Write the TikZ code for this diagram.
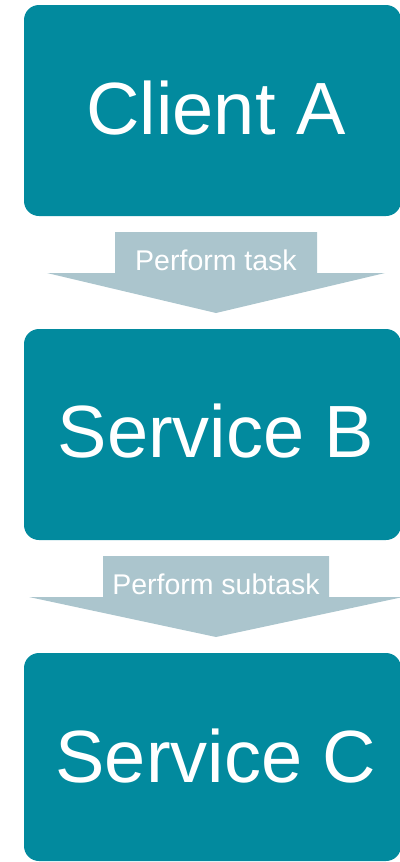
\documentclass[tikz,border=0pt]{standalone}
\usepackage{fontspec}
\setmainfont{Liberation Sans}
\definecolor{teal1}{HTML}{028A9E}
\definecolor{arrowgray}{HTML}{ABC5CD}
\begin{document}
\begin{tikzpicture}[x=1pt,y=-1pt,
  box/.style={fill=teal1, draw=none, rounded corners=15pt},
  bigtext/.style={text=white, font=\fontsize{74}{80}\selectfont, inner sep=0pt, anchor=base},
  smalltext/.style={text=white, font=\fontsize{28.5}{30}\selectfont, inner sep=0pt, anchor=base},
  blockarrow/.style={fill=arrowgray, draw=none}]
\useasboundingbox (0,0) rectangle (399,862);
% boxes
\path[box] (24,5) rectangle (401,216);
\node[bigtext] (tA) at (216,134) {Client A};
\path[box] (24,329) rectangle (401,540);
\node[bigtext] (tB) at (216,457) {Service B};
\path[box] (24,653) rectangle (401,861);
\node[bigtext] (tC) at (216,782) {Service C};
% arrow 1
\path[blockarrow] (115,232) -- (317,232) -- (317,273) -- (385,273) -- (216,313) -- (47,273) -- (115,273) -- cycle;
\node[smalltext] (l1) at (216,270) {Perform task};
% arrow 2
\path[blockarrow] (103,556) -- (329,556) -- (329,597) -- (403,597) -- (216,637) -- (29,597) -- (103,597) -- cycle;
\node[smalltext] (l2) at (216,594) {Perform subtask};
\end{tikzpicture}
\end{document}
